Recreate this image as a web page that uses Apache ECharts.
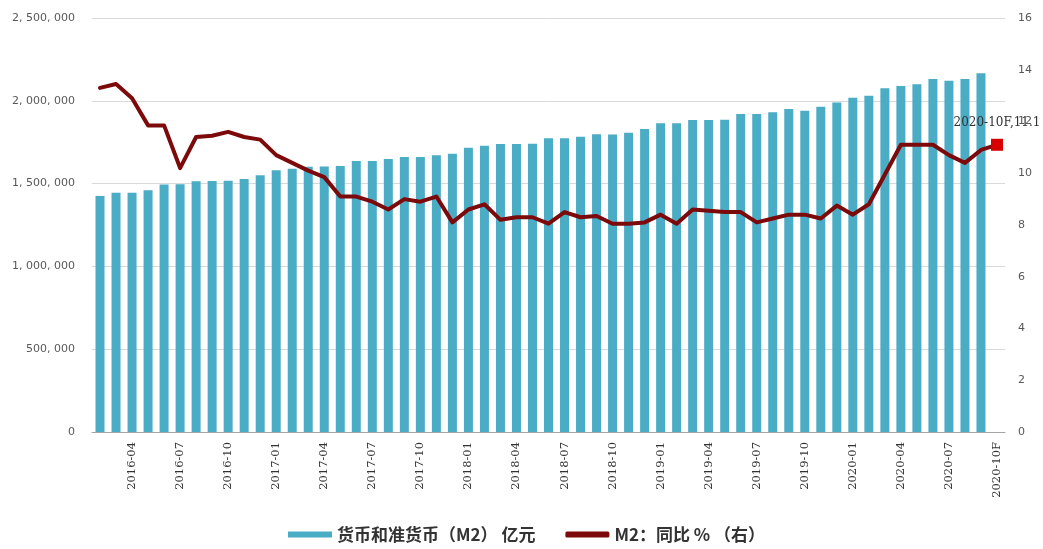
<!DOCTYPE html>
<html>
<head>
<meta charset="utf-8">
<script src="https://cdn.jsdelivr.net/npm/echarts@6/dist/echarts.min.js"></script>
<style>
  html, body { margin: 0; padding: 0; background: #fff; }
  #chart { width: 1043px; height: 549px; }
</style>
</head>
<body>
<div id="chart"></div>
<script>
  // months, 2016-02 .. 2020-10F (last one is forecast, line only)
  var months = [
    '2016-02', '2016-03', '2016-04', '2016-05', '2016-06', '2016-07', '2016-08', '2016-09', '2016-10', '2016-11', '2016-12',
    '2017-01', '2017-02', '2017-03', '2017-04', '2017-05', '2017-06', '2017-07', '2017-08', '2017-09', '2017-10', '2017-11', '2017-12',
    '2018-01', '2018-02', '2018-03', '2018-04', '2018-05', '2018-06', '2018-07', '2018-08', '2018-09', '2018-10', '2018-11', '2018-12',
    '2019-01', '2019-02', '2019-03', '2019-04', '2019-05', '2019-06', '2019-07', '2019-08', '2019-09', '2019-10', '2019-11', '2019-12',
    '2020-01', '2020-02', '2020-03', '2020-04', '2020-05', '2020-06', '2020-07', '2020-08', '2020-09', '2020-10F'
  ];

  // 货币和准货币(M2), 亿元
  var m2Level = [
    1425000, 1445000, 1445000, 1460000, 1494000, 1496000, 1514000, 1515000, 1517000, 1528000, 1550000,
    1580000, 1590000, 1602000, 1604000, 1606000, 1636000, 1636000, 1648000, 1660000, 1660000, 1671000, 1680000,
    1717000, 1729000, 1739000, 1739000, 1741000, 1774000, 1774000, 1783000, 1798000, 1796000, 1807000, 1830000,
    1864000, 1865000, 1884000, 1884000, 1886000, 1920000, 1920000, 1931000, 1950000, 1940000, 1964000, 1989000,
    2019000, 2031000, 2076000, 2089000, 2100000, 2132000, 2121000, 2132000, 2166000, null
  ];

  // M2 同比 %
  var m2Yoy = [
    13.3, 13.45, 12.9, 11.85, 11.85, 10.2, 11.4, 11.45, 11.6, 11.4, 11.3,
    10.7, 10.4, 10.1, 9.85, 9.1, 9.1, 8.9, 8.6, 9.0, 8.9, 9.1, 8.1,
    8.6, 8.8, 8.2, 8.3, 8.3, 8.05, 8.5, 8.3, 8.35, 8.05, 8.05, 8.1,
    8.4, 8.05, 8.6, 8.55, 8.5, 8.5, 8.1, 8.25, 8.4, 8.4, 8.25, 8.75,
    8.4, 8.8, 9.95, 11.1, 11.1, 11.1, 10.7, 10.4, 10.9, 11.1
  ];

  var leftTicks = { min: 0, max: 2500000, interval: 500000 };
  var rightTicks = { min: 0, max: 16, interval: 2 };

  var barName = '货币和准货币（M2） 亿元';
  var lineName = 'M2：同比 % （右）';

  function fmtThousands(v) {
    return String(v).replace(/\B(?=(\d{3})+(?!\d))/g, ', ');
  }

  var yoyData = m2Yoy.map(function (v, i) {
    if (i !== m2Yoy.length - 1) return v;
    return {
      value: v,
      symbol: 'rect',
      symbolSize: 12,
      itemStyle: { color: '#d90000' },
      label: {
        show: true,
        position: 'top',
        distance: 10,
        formatter: months[i] + ',' + v,
        fontFamily: 'DejaVu Serif',
        fontSize: 12,
        color: '#333'
      }
    };
  });

  var chart = echarts.init(document.getElementById('chart'));
  chart.setOption({
    animation: false,
    textStyle: { fontFamily: 'DejaVu Sans' },
    grid: { left: 92, right: 38, top: 18, bottom: 117 },
    legend: {
      left: 283,
      bottom: 1,
      itemGap: 30,
      itemWidth: 44,
      itemHeight: 6,
      textStyle: {
        fontFamily: 'Noto Sans CJK SC',
        fontWeight: 'bold',
        fontSize: 17,
        color: '#333'
      },
      data: [
        { name: barName, icon: 'rect' },
        { name: lineName, icon: 'roundRect' }
      ]
    },
    xAxis: {
      type: 'category',
      data: months,
      axisLine: { lineStyle: { color: '#a6a6a6' } },
      axisTick: { interval: 0, length: 3, lineStyle: { color: '#bfbfbf' } },
      axisLabel: {
        interval: function (i) { return i % 3 === 2; },
        rotate: 90,
        margin: 10,
        fontFamily: 'DejaVu Serif',
        fontSize: 11.5,
        color: '#333'
      }
    },
    yAxis: [
      {
        type: 'value',
        min: leftTicks.min,
        max: leftTicks.max,
        interval: leftTicks.interval,
        axisLine: { show: false },
        axisTick: { show: false },
        splitLine: { lineStyle: { color: '#d9d9d9', width: 1 } },
        axisLabel: {
          margin: 17,
          fontSize: 11,
          color: '#595959',
          formatter: fmtThousands
        }
      },
      {
        type: 'value',
        min: rightTicks.min,
        max: rightTicks.max,
        interval: rightTicks.interval,
        axisLine: { show: false },
        axisTick: { show: false },
        splitLine: { show: false },
        axisLabel: { margin: 13, fontSize: 11, color: '#595959' }
      }
    ],
    series: [
      {
        name: barName,
        type: 'bar',
        yAxisIndex: 0,
        barWidth: 9,
        itemStyle: { color: '#4BACC6' },
        data: m2Level
      },
      {
        name: lineName,
        type: 'line',
        yAxisIndex: 1,
        symbol: 'none',
        itemStyle: { color: '#7d0a0a' },
        lineStyle: { color: '#7d0a0a', width: 4, join: 'round', cap: 'round' },
        data: yoyData
      }
    ]
  });
</script>
</body>
</html>
